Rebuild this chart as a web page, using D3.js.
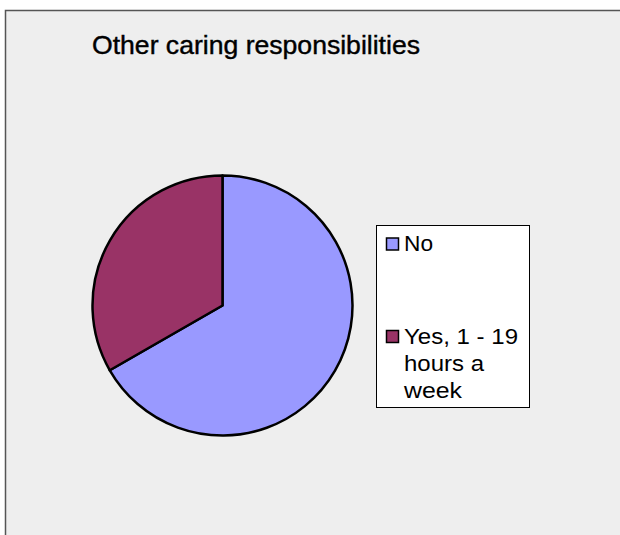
<!DOCTYPE html>
<html><head><meta charset="utf-8">
<script src="https://cdn.jsdelivr.net/npm/d3@7"></script>
<style>html,body{margin:0;padding:0;background:#fff;}svg{display:block;}</style>
</head><body>
<script>
const categories = ["No", "Yes, 1 - 19 hours a week"];
const values = [66.7, 33.3];
const colors = ["#9999ff", "#993366"];
const legendLines = [["No"], ["Yes, 1 - 19", "hours a", "week"]];
const title = "Other caring responsibilities";

// layout (text widths)
const legendWidths = [[29], [114, 80, 58]];

const W = 620, H = 535;
const svg = d3.select("body").append("svg").attr("width", W).attr("height", H);

svg.append("rect").attr("x", 5.5).attr("y", 10.5).attr("width", W + 10).attr("height", H + 10)
  .attr("fill", "#eeeeee").attr("stroke", "#555").attr("stroke-width", 1.5);

svg.append("text").attr("x", 92).attr("y", 54)
  .attr("font-family", "Liberation Sans, Arial, sans-serif").attr("font-size", 25)
  .attr("textLength", 328).attr("lengthAdjust", "spacingAndGlyphs")
  .attr("fill", "#000").attr("stroke", "#000").attr("stroke-width", 0.4).text(title);

const cx = 222.5, cy = 305.5, r = 130;
const pie = d3.pie().sort(null).value(d => d)(values);
const arc = d3.arc().innerRadius(0).outerRadius(r);
const g = svg.append("g").attr("transform", `translate(${cx},${cy})`);
g.selectAll("path").data(pie).join("path")
  .attr("d", arc).attr("fill", (d, i) => colors[i])
  .attr("stroke", "#000").attr("stroke-width", 2.5).attr("stroke-linejoin", "round");

// legend
svg.append("rect").attr("x", 376.5).attr("y", 225.5).attr("width", 153).attr("height", 182)
  .attr("fill", "#fff").attr("stroke", "#000").attr("stroke-width", 1);

const baselines = [251, 343.5];
const lineH = 27.2;
categories.forEach((c, i) => {
  svg.append("rect").attr("x", 386.5).attr("y", baselines[i] - 13).attr("width", 12).attr("height", 12)
    .attr("fill", colors[i]).attr("stroke", "#000").attr("stroke-width", 1.5);
  legendLines[i].forEach((ln, j) => {
    svg.append("text").attr("x", 404).attr("y", baselines[i] + j * lineH)
      .attr("font-family", "Liberation Sans, Arial, sans-serif").attr("font-size", 22)
      .attr("textLength", legendWidths[i][j]).attr("lengthAdjust", "spacingAndGlyphs")
      .attr("fill", "#000").text(ln);
  });
});
</script>
</body></html>
